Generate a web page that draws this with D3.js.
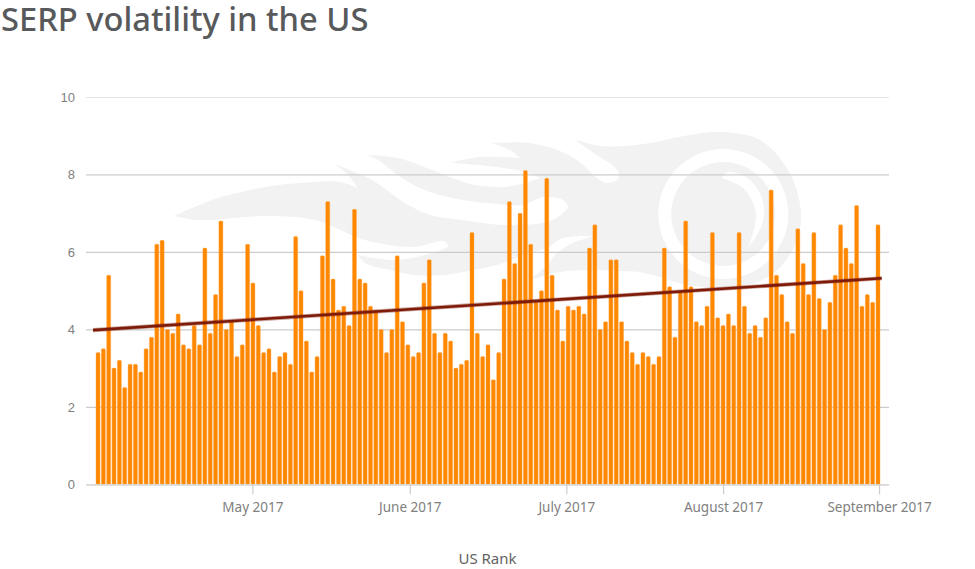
<!DOCTYPE html>
<html>
<head>
<meta charset="utf-8">
<script src="https://cdn.jsdelivr.net/npm/d3@7"></script>
<style>
  html, body { margin: 0; padding: 0; background: #fff; }
  svg { display: block; }
</style>
</head>
<body>
<div id="chart"></div>
<script>
// daily SERP volatility
var values = [
  3.4, 3.5, 5.4, 3.0, 3.2, 2.5, 3.1, 3.1, 2.9, 3.5, 3.8, 6.2, 6.3, 4.0, 3.9, 4.4, 3.6, 3.5, 4.1, 3.6,
  6.1, 3.9, 4.9, 6.8, 4.0, 4.2, 3.3, 3.6, 6.2, 5.2, 4.1, 3.4, 3.5, 2.9, 3.3, 3.4, 3.1, 6.4, 5.0, 3.7,
  2.9, 3.3, 5.9, 7.3, 5.3, 4.5, 4.6, 4.1, 7.1, 5.3, 5.2, 4.6, 4.5, 4.0, 3.4, 4.0, 5.9, 4.2, 3.6, 3.3,
  3.4, 5.2, 5.8, 3.9, 3.4, 3.9, 3.7, 3.0, 3.1, 3.2, 6.5, 3.9, 3.3, 3.6, 2.7, 3.4, 5.3, 7.3, 5.7, 7.0,
  8.1, 6.2, 4.7, 5.0, 7.9, 5.4, 4.5, 3.7, 4.6, 4.5, 4.6, 4.4, 6.1, 6.7, 4.0, 4.2, 5.8, 5.8, 4.2, 3.7,
  3.4, 3.1, 3.4, 3.3, 3.1, 3.3, 6.1, 5.1, 3.8, 5.0, 6.8, 5.1, 4.2, 4.1, 4.6, 6.5, 4.3, 4.1, 4.4, 4.1,
  6.5, 4.6, 3.9, 4.1, 3.8, 4.3, 7.6, 5.4, 4.9, 4.2, 3.9, 6.6, 5.7, 4.9, 6.5, 4.8, 4.0, 4.7, 5.4, 6.7,
  6.1, 5.7, 7.2, 4.6, 4.9, 4.7, 6.7
];
var yTicks = [0, 2, 4, 6, 8, 10];
var monthLabels = ["May 2017", "June 2017", "July 2017", "August 2017", "September 2017"];
var monthPositions = [28.9, 58.35, 87.66, 117, 146.2];
var trendX = [-0.94, 146.7];
var trendY = [3.98, 5.32];

var width = 975, height = 569;

var svg = d3.select("#chart").append("svg")
  .attr("width", width)
  .attr("height", height);

var x = d3.scaleLinear().domain([-2.25, 148.06]).range([86, 889]);
var y = d3.scaleLinear().domain([0, 10]).range([484.3, 97]);

// faint flame logo behind the plot, the outline is split at its sharp tips
var flameOutline = [
  [[174,216],[215,199],[265,187],[315,182],[340,182],[358,188]],
  [[358,188],[345,172],[332,163]],
  [[332,163],[372,180],[405,203],[430,215],[463,220],[503,225],[547,222],[562,214],[568,207],[563,200],[543,197],[523,205],[497,204],[463,200],[430,192],[405,180],[378,160],[368,155]],
  [[368,155],[398,158],[432,170],[450,177],[470,184],[503,187],[525,183],[540,178]],
  [[540,178],[525,172],[497,167],[450,163]],
  [[450,163],[480,157],[520,158]],
  [[520,158],[510,150],[492,143]],
  [[492,143],[530,143],[557,150],[577,160],[597,178],[607,183],[617,180],[619,173],[612,165],[597,155],[574,139]],
  [[574,139],[600,146],[625,146],[650,143],[690,135],[723,132],[760,140],[788,170],[801,212],[795,245],[775,272],[745,286],[723,288],[687,285],[660,277],[640,272]],
  [[640,272],[590,270],[560,272],[530,280]],
  [[530,280],[547,265],[557,253],[573,243],[593,236]],
  [[593,236],[563,238],[547,248],[530,253],[497,265],[473,270],[445,275],[415,275],[390,270],[365,263],[358,255]],
  [[358,255],[395,260],[432,253],[448,246],[443,241],[415,247],[365,240],[315,220],[265,216],[198,220],[174,216]]
];
var crescent = [
  [[722,178],[728,172],[750,180],[763,202],[762,225],[748,248]],
  [[748,248],[755,225],[755,208],[743,188],[722,178]]
];

var smooth = d3.line().curve(d3.curveCatmullRom);
function outlinePath(parts) {
  return parts.map(function(p, i) {
    var s = smooth(p);
    return i ? s.replace(/^M[^C]*/, "") : s;
  }).join("") + "Z";
}

var logo = svg.append("g");
logo.append("path")
  .attr("fill", "#f2f2f2")
  .attr("d", outlinePath(flameOutline));
logo.append("path")
  .attr("fill", "#fff")
  .attr("transform", "translate(723.3,214)")
  .attr("d", d3.arc()({ innerRadius: 52, outerRadius: 65, startAngle: 0, endAngle: 2 * Math.PI }));
logo.append("path")
  .attr("fill", "#fff")
  .attr("d", outlinePath(crescent));

// gridlines and value labels
var yAxis = d3.axisLeft(y)
  .tickValues(yTicks)
  .tickSize(-(x.range()[1] - x.range()[0]))
  .tickPadding(11)
  .tickFormat(d3.format("d"));

var yG = svg.append("g")
  .attr("transform", "translate(" + x.range()[0] + ",0)")
  .call(yAxis);
yG.select(".domain").remove();
yG.selectAll(".tick line")
  .attr("stroke", function(d) { return d == 10 ? "#e6e6e6" : "#cccccc"; })
  .attr("stroke-width", 1.2);
yG.selectAll(".tick text")
  .attr("fill", "#7f7f7f")
  .style("font-family", "'Liberation Sans', Arial, sans-serif")
  .style("font-size", "13px");

// bars
svg.append("g").selectAll("rect").data(values).enter().append("rect")
  .attr("x", function(d, i) { return x(i) - 2; })
  .attr("width", 4)
  .attr("y", function(d) { return y(d); })
  .attr("height", function(d) { return y(0) - y(d); })
  .attr("rx", 1.2)
  .attr("fill", "#ff8800")
  .attr("stroke", "#ffa64d")
  .attr("stroke-width", 0.4);

// month axis
var xAxis = d3.axisBottom(x)
  .tickValues(monthPositions)
  .tickSize(10)
  .tickSizeOuter(0)
  .tickPadding(8)
  .tickFormat(function(d, i) { return monthLabels[i]; });

var xG = svg.append("g")
  .attr("transform", "translate(0," + y(0) + ")")
  .call(xAxis);
xG.select(".domain").attr("stroke", "#d9d9d9").attr("stroke-width", 1);
xG.selectAll(".tick line").attr("stroke", "#cccccc").attr("stroke-width", 1.2);
xG.selectAll(".tick text")
  .attr("fill", "#808080")
  .style("font-family", "'Noto Sans', sans-serif")
  .style("font-size", "13.5px");

// trend line
var trendData = d3.zip(trendX, trendY);
var trendLine = d3.line()
  .x(function(d) { return x(d[0]); })
  .y(function(d) { return y(d[1]); });

svg.append("path").datum(trendData)
  .attr("fill", "none")
  .attr("stroke", "#7d1a08")
  .attr("stroke-opacity", 0.4)
  .attr("stroke-width", 4.2)
  .attr("d", trendLine);
svg.append("path").datum(trendData)
  .attr("fill", "none")
  .attr("stroke", "#7d1a08")
  .attr("stroke-width", 2.6)
  .attr("d", trendLine);

// title and axis title
svg.append("text")
  .attr("x", 1)
  .attr("y", 31)
  .attr("fill", "#58595b")
  .style("font-family", "'Noto Sans', sans-serif")
  .style("font-weight", 500)
  .style("font-size", "32.7px")
  .text("SERP volatility in the US");

svg.append("text")
  .attr("x", 487.5)
  .attr("y", 564)
  .attr("text-anchor", "middle")
  .attr("fill", "#636363")
  .style("font-family", "'Noto Sans', sans-serif")
  .style("font-size", "15px")
  .text("US Rank");
</script>
</body>
</html>
